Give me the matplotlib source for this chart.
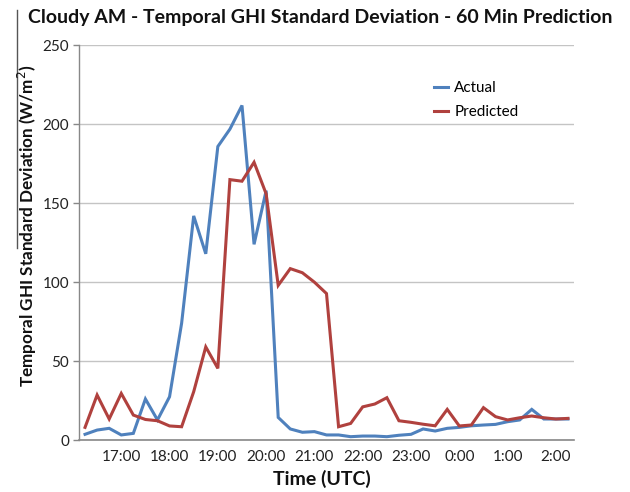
import matplotlib
matplotlib.use("Agg")
import matplotlib.pyplot as plt
from matplotlib.lines import Line2D

# ---- data ----
tick_labels = ["17:00", "18:00", "19:00", "20:00", "21:00", "22:00", "23:00", "0:00", "1:00", "2:00"]
actual = [3.6, 6.3, 7.4, 3.2, 4.2, 26, 12.7, 27.4, 74, 142,
          118, 186, 197, 212, 124, 158, 14.3, 7, 4.9, 5.3,
          3.2, 3.2, 2.1, 2.5, 2.5, 2.1, 3, 3.6, 7, 5.7,
          7.4, 8, 9, 9.5, 9.9, 11.6, 12.7, 19.4, 13.3, 13.3, 13.3]
predicted = [8, 28.5, 13.3, 29.5, 15.8, 13, 12.2, 8.9, 8.4, 30.6,
             59, 45.4, 165, 164, 176, 156, 98, 108.6, 106, 100,
             92.8, 8.4, 10.5, 21, 22.8, 26.8, 12.2, 11.2, 10, 9,
             19.4, 8.9, 9.5, 20.5, 14.8, 12.7, 14.1, 15.2, 14.1, 13.3, 13.7]
y_ticks = [0, 50, 100, 150, 200, 250]

plt.rcParams['font.family'] = ['Lato', 'DejaVu Sans']

W, H = 630, 492
fig = plt.figure(figsize=(W / 100, H / 100), dpi=100)
ax = fig.add_axes([79 / W, 1 - 440 / H, (574 - 79) / W, (440 - 45.5) / H])

x = list(range(len(actual)))
ax.plot(x, actual, color="#4F81BD", lw=2.2, label="Actual", solid_joinstyle="miter")
ax.plot(x, predicted, color="#B0413E", lw=2.2, label="Predicted", solid_joinstyle="miter")

ax.set_xlim(-0.5, len(actual) - 0.5)
ax.set_ylim(0, 250)
ax.set_yticks(y_ticks)
ax.set_yticklabels([str(v) for v in y_ticks], fontsize=11, color="#222222")
ax.set_xticks([3 + 4 * i for i in range(len(tick_labels))])
ax.set_xticklabels(tick_labels, fontsize=11, color="#222222")
ax.tick_params(axis="x", length=0, pad=7)
ax.tick_params(axis="y", length=4, width=1, color="#888888", pad=3)

ax.grid(axis="y", color="#C4C4C4", lw=1)
ax.set_axisbelow(True)
for s in ["top", "right"]:
    ax.spines[s].set_visible(False)
ax.spines["left"].set_color("#888888")
ax.spines["bottom"].set_color("#888888")
ax.spines["left"].set_linewidth(1)
ax.spines["bottom"].set_linewidth(1.2)

leg = ax.legend(loc="upper left", bbox_to_anchor=(0.69, 0.945), frameon=False,
                fontsize=11, handlelength=0.9, handletextpad=0.4, labelspacing=0.65)

fig.text(320 / W, 1 - 18 / H, "Cloudy AM - Temporal GHI Standard Deviation - 60 Min Prediction",
         ha="center", va="center", fontsize=14, fontweight="bold", color="#111111")
fig.text(322 / W, 1 - 479 / H, "Time (UTC)", ha="center", va="center",
         fontsize=14, fontweight="bold", color="#111111")
fig.text(27 / W, 1 - 226 / H, "Temporal GHI Standard Deviation (W/m$^2$)", ha="center",
         va="center", rotation=90, fontsize=12.3, fontweight="bold", color="#111111")

fig.add_artist(Line2D([16.5 / W, 16.5 / W], [1 - 10 / H, 1 - 248 / H], color="#555555", lw=1))

fig.savefig("out.png", dpi=100, facecolor="white")
